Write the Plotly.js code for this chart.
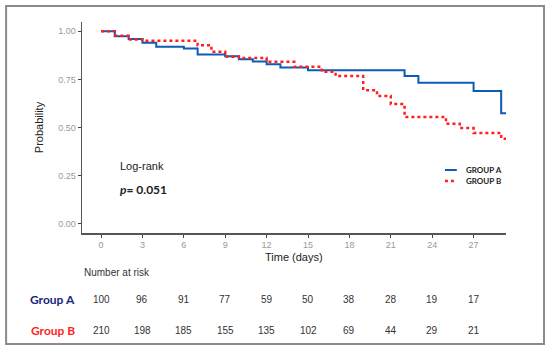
<!DOCTYPE html>
<html>
<head>
<meta charset="utf-8">
<script src="https://cdn.plot.ly/plotly-3.0.1.min.js"></script>
<style>html,body{margin:0;padding:0;background:#fff;}#chart{width:550px;height:352px;}</style>
</head>
<body>
<div id="chart"></div>
<script>
// Kaplan-Meier step data
var timesA = [0, 1, 2, 3, 4, 6, 7, 9, 10, 11, 12, 13, 15, 22, 23, 27, 29, 29.4];
var survA  = [1.0, 0.974, 0.96, 0.94, 0.92, 0.91, 0.879, 0.870, 0.855, 0.843, 0.829, 0.812, 0.797, 0.767, 0.732, 0.69, 0.574, 0.574];
var timesB = [0, 1, 2, 3, 7, 8, 9, 10, 12, 14, 16, 17, 19, 20, 21, 22, 25, 26, 27, 29, 29.4];
var survB  = [1.0, 0.976, 0.957, 0.95, 0.927, 0.893, 0.867, 0.861, 0.841, 0.815, 0.789, 0.767, 0.694, 0.664, 0.622, 0.555, 0.519, 0.497, 0.472, 0.442, 0.442];

var xTicks = [0, 3, 6, 9, 12, 15, 18, 21, 24, 27];
var yTicks = [0, 0.25, 0.5, 0.75, 1.0];
var yTickLabels = ['0.00', '0.25', '0.50', '0.75', '1.00'];

var riskTimes = [0, 3, 6, 9, 12, 15, 18, 21, 24, 27];
var riskA = [100, 96, 91, 77, 59, 50, 38, 28, 19, 17];
var riskB = [210, 198, 185, 155, 135, 102, 69, 44, 29, 21];

var groupNames = ['GROUP A', 'GROUP B'];
var rowLabels = ['Group A', 'Group B'];

var blue = '#0d5bb5';
var red = '#ff1f1f';

var traces = [
  {x: timesA, y: survA, type: 'scatter', mode: 'lines', name: groupNames[0],
   line: {shape: 'hv', color: blue, width: 2}},
  {x: timesB, y: survB, type: 'scatter', mode: 'lines', name: groupNames[1],
   line: {shape: 'hv', color: red, width: 2.5, dash: '3px,3px'}}
];

var annotations = [];
var numFont = {family: 'Liberation Sans, Arial, sans-serif', size: 10, color: '#333'};
for (var i = 0; i < riskTimes.length; i++) {
  annotations.push({x: riskTimes[i], y: -0.3175, xref: 'x', yref: 'paper', text: String(riskA[i]),
    showarrow: false, xanchor: 'center', yanchor: 'middle', font: numFont});
  annotations.push({x: riskTimes[i], y: -0.46, xref: 'x', yref: 'paper', text: String(riskB[i]),
    showarrow: false, xanchor: 'center', yanchor: 'middle', font: numFont});
}
annotations.push({x: 0, y: -0.185, xref: 'paper', yref: 'paper', text: 'Number at risk', showarrow: false,
  xanchor: 'left', yanchor: 'middle', font: {family: 'Liberation Sans, Arial, sans-serif', size: 10, color: '#333'}});
annotations.push({x: -0.012, y: -0.3175, xref: 'paper', yref: 'paper', text: '<b>' + rowLabels[0] + '</b>', showarrow: false,
  xanchor: 'right', yanchor: 'middle', font: {family: 'Lato, Open Sans, sans-serif', size: 12, color: '#1a237e'}});
annotations.push({x: -0.012, y: -0.46, xref: 'paper', yref: 'paper', text: '<b>' + rowLabels[1] + '</b>', showarrow: false,
  xanchor: 'right', yanchor: 'middle', font: {family: 'Lato, Open Sans, sans-serif', size: 12, color: '#ff1f1f'}});
annotations.push({x: 0.5, y: -0.112, xref: 'paper', yref: 'paper', text: 'Time (days)', showarrow: false,
  xanchor: 'center', yanchor: 'middle', font: {family: 'Liberation Sans, Arial, sans-serif', size: 11, color: '#222'}});
annotations.push({x: 1.2, y: 0.30, xref: 'x', yref: 'y', text: 'Log-rank', showarrow: false,
  xanchor: 'left', yanchor: 'middle', font: {family: 'Liberation Sans, Arial, sans-serif', size: 11, color: '#222'}});
annotations.push({x: 1.25, y: 0.18, xref: 'x', yref: 'y', text: '<b><i>p</i>= 0.051</b>', showarrow: false,
  xanchor: 'left', yanchor: 'middle', font: {family: 'Lato, Open Sans, sans-serif', size: 12, color: '#222'}});
// legend labels
annotations.push({x: 0.901, y: 0.2986, xref: 'paper', yref: 'paper', text: '<b>' + groupNames[0] + '</b>', showarrow: false,
  xanchor: 'left', yanchor: 'middle', font: {family: 'Lato, Open Sans, sans-serif', size: 8, color: '#222'}});
annotations.push({x: 0.901, y: 0.246, xref: 'paper', yref: 'paper', text: '<b>' + groupNames[1] + '</b>', showarrow: false,
  xanchor: 'left', yanchor: 'middle', font: {family: 'Lato, Open Sans, sans-serif', size: 8, color: '#222'}});

var shapes = [
  {type: 'rect', xref: 'paper', yref: 'paper', x0: -0.179, x1: 1.0896, y0: -0.526, y1: 1.0758,
   line: {color: '#8a8a8a', width: 2}, fillcolor: 'rgba(0,0,0,0)', layer: 'below'},
  {type: 'line', xref: 'paper', yref: 'paper', x0: 0.856, x1: 0.884, y0: 0.2986, y1: 0.2986,
   line: {color: blue, width: 2}},
  {type: 'line', xref: 'paper', yref: 'paper', x0: 0.856, x1: 0.884, y0: 0.246, y1: 0.246,
   line: {color: red, width: 2.5, dash: '3px,3px'}}
];

var layout = {
  width: 550, height: 352,
  margin: {l: 82, r: 44, t: 22, b: 119},
  paper_bgcolor: '#fff', plot_bgcolor: '#fff',
  showlegend: false,
  xaxis: {
    range: [-1.38, 29.35], tickvals: xTicks, ticktext: xTicks.map(String),
    showgrid: false, zeroline: false, showline: true, linecolor: '#555', linewidth: 1.5,
    ticks: 'outside', ticklen: 3, tickwidth: 1, tickcolor: '#444',
    tickfont: {family: 'Liberation Sans, Arial, sans-serif', size: 9, color: '#999'}
  },
  yaxis: {
    range: [-0.048, 1.048], tickvals: yTicks, ticktext: yTickLabels,
    showgrid: false, zeroline: false, showline: true, linecolor: '#555', linewidth: 1.5,
    ticks: 'outside', ticklen: 3, tickwidth: 1, tickcolor: '#444',
    tickfont: {family: 'Liberation Sans, Arial, sans-serif', size: 9, color: '#999'},
    title: {text: 'Probability', standoff: 12, font: {family: 'Liberation Sans, Arial, sans-serif', size: 11, color: '#222'}}
  },
  annotations: annotations,
  shapes: shapes
};

Plotly.newPlot('chart', traces, layout, {displayModeBar: false, staticPlot: true});
</script>
</body>
</html>
